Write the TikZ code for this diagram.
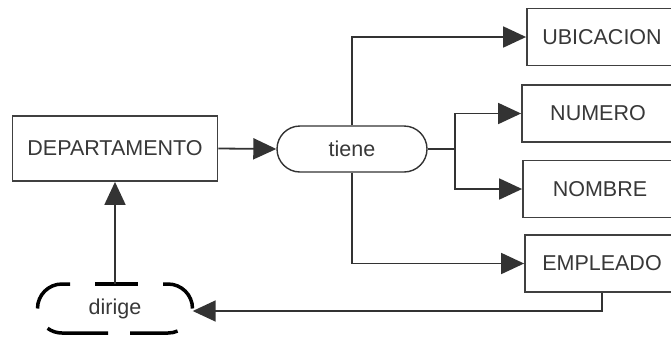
\documentclass[tikz,border=0pt]{standalone}
\usepackage{fontspec}
\setmainfont{Liberation Sans}
\usetikzlibrary{arrows.meta,shapes.misc}
\begin{document}
\begin{tikzpicture}[x=1pt,y=-1pt,
  every node/.style={font=\fontsize{21.5}{25}\selectfont, text=black!78, inner sep=0pt},
  ent/.style={draw=black!75, line width=1.8pt, rectangle, minimum height=57pt},
  rel/.style={draw=black!80, line width=1.4pt, rounded rectangle, minimum width=150pt, minimum height=46pt},
  conn/.style={draw=black!80, line width=1.8pt},
  arr/.style={conn, -{Triangle[length=23pt,width=21pt]}},
  dashseg/.style={line width=3.5pt, black}]
\useasboundingbox (0,0) rectangle (671,338);
\clip (0,0) rectangle (671,338);
\fill[white] (0,0) rectangle (671,338);
% nodes
\node[ent, minimum width=205pt, minimum height=65pt] (dep) at (115,148.5) {DEPARTAMENTO};
\node[rel] (tiene) at (352,149) {tiene};
\node[ent, minimum width=150pt] (ubi) at (602,37) {UBICACION};
\node[ent, minimum width=152pt] (num) at (598,113.5) {NUMERO};
\node[ent, minimum width=154pt] (nom) at (600,189) {NOMBRE};
\node[ent, minimum width=154pt] (emp) at (602,263.5) {EMPLEADO};
\node[minimum width=155pt, minimum height=49pt] (dir) at (115,308.5) {dirige};
% dashed outline of dirige
\draw[dashseg] (70,284) -- (62,284) arc[start angle=270, end angle=180, radius=24.5];
\draw[dashseg] (95,284) -- (138,284);
\draw[dashseg] (163,284) -- (168,284) arc[start angle=270, end angle=360, radius=24.5];
\draw[dashseg] ([shift={(168,308.5)}]67:24.5) arc[start angle=67, end angle=90, radius=24.5] -- (130,333);
\draw[dashseg] (108,333) -- (62,333) arc[start angle=90, end angle=126, radius=24.5];
% connectors
\draw[arr] (dep.east) -- (tiene.west);
\draw[arr] (tiene.north) |- (ubi.west);
\draw[arr] (tiene.south) |- (emp.west);
\coordinate (fork) at (455,149);
\draw[conn] (tiene.east) -- (fork);
\draw[arr] (fork) |- (num.west);
\draw[arr] (fork) |- (nom.west);
\coordinate (bend) at (emp.south |- 0,311);
\draw[arr] (emp.south) -- (bend) -- (dir.east |- bend);
\draw[arr] (dir.north) -- (dep.south);
\end{tikzpicture}
\end{document}
